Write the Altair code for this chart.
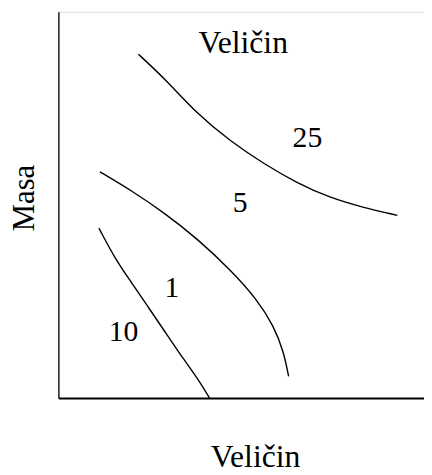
import altair as alt
import pandas as pd

# Curves (x, y in plot units; x domain 0-370, y domain 0-391)
curve_names = ["25", "5", "1"]
c25_x = [81, 108, 141, 174, 208, 241, 274, 308, 343]
c25_y = [348, 323, 287, 260, 237, 218, 203, 193, 185]
c5_x = [42, 74, 108, 141, 174, 201, 218, 228, 233]
c5_y = [229, 210, 187, 161, 130, 100, 73, 47, 22]
c1_x = [41, 58, 74, 91, 108, 124, 141, 153]
c1_y = [172, 140, 117, 92, 67, 43, 20, 0]

label_text = ["Veličin", "25", "5", "1", "10"]
label_x = [187, 252, 184, 115, 66]
label_y = [359, 263, 197, 111, 67]

rows = []
for name, xs, ys in zip(curve_names, [c25_x, c5_x, c1_x], [c25_y, c5_y, c1_y]):
    for i, (xv, yv) in enumerate(zip(xs, ys)):
        rows.append({"curve": name, "order": i, "x": xv, "y": yv})
curves = pd.DataFrame(rows)
labels = pd.DataFrame({"text": label_text, "x": label_x, "y": label_y,
                       "size": [32, 30, 30, 30, 30]})

FONT = "Liberation Serif"

xscale = alt.Scale(domain=[0, 370], nice=False, zero=False)
yscale = alt.Scale(domain=[0, 391], nice=False, zero=False)

xaxis = alt.Axis(title="Veličin", ticks=False, labels=False, grid=False,
                 domainColor="black", domainWidth=2, titleFont=FONT,
                 titleFontSize=32, titleFontWeight="normal", titleColor="black",
                 titlePadding=44, titleX=199, titleAlign="center")
yaxis = alt.Axis(title="Masa", ticks=False, labels=False, grid=False,
                 domainColor="black", domainWidth=1.3, titleFont=FONT,
                 titleFontSize=31, titleFontWeight="normal", titleColor="black",
                 titlePadding=18, titleY=188, titleAlign="center")

lines = alt.Chart(curves).mark_line(color="black", strokeWidth=1.4, interpolate="basis").encode(
    x=alt.X("x:Q", scale=xscale, axis=xaxis),
    y=alt.Y("y:Q", scale=yscale, axis=yaxis),
    detail="curve:N",
    order="order:Q",
)

texts = alt.Chart(labels).mark_text(font=FONT, color="black",
                                    align="center", baseline="middle").encode(
    x=alt.X("x:Q", scale=xscale),
    y=alt.Y("y:Q", scale=yscale),
    text="text:N",
    size=alt.Size("size:Q", scale=None, legend=None),
)

chart = alt.layer(lines, texts).properties(
    width=370, height=391,
    padding={"left": 51, "top": 1, "right": 0, "bottom": 75},
    autosize="none",
).configure_view(stroke=None).configure(background="white")

chart.save("out.html", embed_options={"renderer": "svg", "actions": False})
